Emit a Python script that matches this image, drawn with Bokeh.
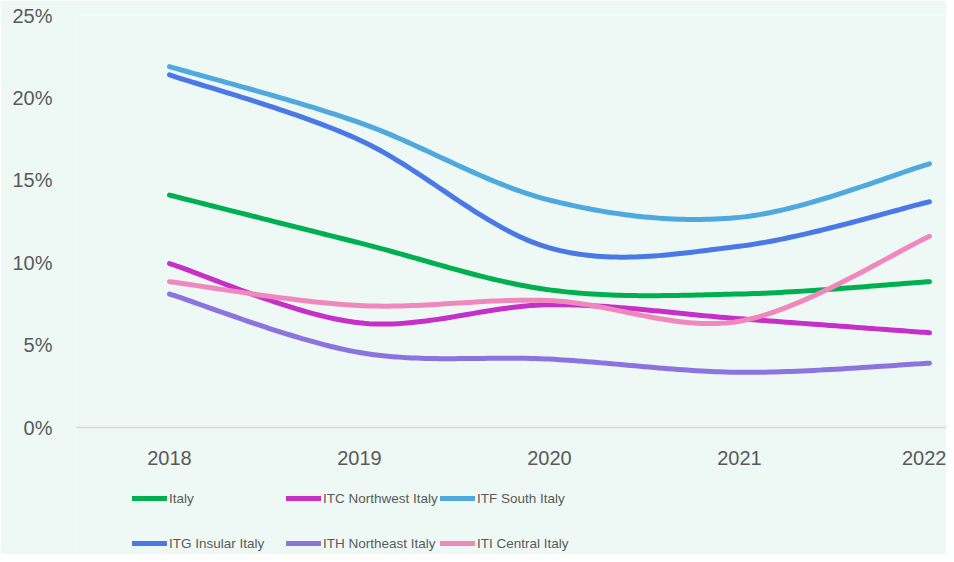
from bokeh.plotting import figure
from bokeh.models import Range1d, FixedTicker, PrintfTickFormatter, Legend, LegendItem
from bokeh.embed import file_html
from bokeh.resources import INLINE

years = ["2018", "2019", "2020", "2021", "2022"]
italy = [14.1, 11.2, 8.35, 8.1, 8.85]
itc = [9.95, 6.35, 7.45, 6.6, 5.75]
itf = [21.9, 18.5, 13.8, 12.75, 16.0]
itg = [21.4, 17.45, 10.9, 11.0, 13.7]
ith = [8.1, 4.55, 4.15, 3.35, 3.9]
iti = [8.85, 7.4, 7.7, 6.45, 11.6]

names = ["Italy", "ITC Northwest Italy", "ITF South Italy",
         "ITG Insular Italy", "ITH Northeast Italy", "ITI Central Italy"]
series = [italy, itc, itf, itg, ith, iti]
colors = ["#00B050", "#C62FC8", "#4FA8DE", "#4A78E6", "#8B73E0", "#F088BE"]

y_ticks = [0, 5, 10, 15, 20, 25]


def smooth(xs, ys, n=40):
    # Excel-style smoothed line: cubic Bezier segments through the points
    px, py = [], []
    m = len(xs)
    for i in range(m - 1):
        x0, y0 = xs[max(i - 1, 0)], ys[max(i - 1, 0)]
        x1, y1 = xs[i], ys[i]
        x2, y2 = xs[i + 1], ys[i + 1]
        x3, y3 = xs[min(i + 2, m - 1)], ys[min(i + 2, m - 1)]
        c1x, c1y = x1 + (x2 - x0) / 6.0, y1 + (y2 - y0) / 6.0
        c2x, c2y = x2 - (x3 - x1) / 6.0, y2 - (y3 - y1) / 6.0
        for k in range(n + (1 if i == m - 2 else 0)):
            t = k / n
            a = (1 - t) ** 3
            b = 3 * (1 - t) ** 2 * t
            c = 3 * (1 - t) * t ** 2
            d = t ** 3
            px.append(a * x1 + b * c1x + c * c2x + d * x2)
            py.append(a * y1 + b * c1y + c * c2y + d * y2)
    return px, py


W, H = 946, 554
p = figure(width=W, height=H, output_backend="svg", toolbar_location=None,
           x_range=Range1d(-0.4947, 4.0895), y_range=Range1d(-7.706, 25),
           min_border_left=75, min_border_right=0, min_border_top=15,
           min_border_bottom=0)
p.background_fill_color = "#EEF9F5"
p.border_fill_color = "#EEF9F5"
p.outline_line_color = None
p.xgrid.visible = False
p.ygrid.visible = False

xs = list(range(len(years)))
renderers = []
for name, ys, col in zip(names, series, colors):
    sx, sy = smooth(xs, ys)
    r = p.line(sx, sy, line_color=col, line_width=5, line_cap="round",
               line_join="round")
    renderers.append(r)

tick_font = "Liberation Sans"
# x axis, drawn at the 0% level
p.xaxis.fixed_location = 0
p.xaxis.ticker = FixedTicker(ticks=xs)
p.xaxis.major_label_overrides = {i: y for i, y in enumerate(years)}
p.xaxis.axis_line_color = "#D9D9D9"
p.xaxis.axis_line_width = 1.5
p.xaxis.major_tick_line_color = None
p.xaxis.minor_tick_line_color = None
p.xaxis.major_tick_out = 0
p.xaxis.major_label_standoff = 23
p.xaxis.major_label_text_font = tick_font
p.xaxis.major_label_text_font_size = "20px"
p.xaxis.major_label_text_color = "#595959"

# y axis
p.yaxis.ticker = FixedTicker(ticks=y_ticks)
p.yaxis.formatter = PrintfTickFormatter(format="%d%%")
p.yaxis.axis_line_color = None
p.yaxis.major_tick_line_color = None
p.yaxis.minor_tick_line_color = None
p.yaxis.major_tick_out = 0
p.yaxis.major_label_standoff = 23
p.yaxis.major_label_text_font = tick_font
p.yaxis.major_label_text_font_size = "20px"
p.yaxis.major_label_text_color = "#595959"

# legend: three columns of two rows, below the 0% line
cols = [(0, 3, 57), (1, 4, 211), (2, 5, 365)]
for a, b, xoff in cols:
    leg = Legend(items=[LegendItem(label=names[a], renderers=[renderers[a]]),
                        LegendItem(label=names[b], renderers=[renderers[b]])],
                 location=(xoff, 1), orientation="vertical")
    leg.glyph_width = 35
    leg.glyph_height = 20
    leg.label_height = 20
    leg.spacing = 25
    leg.padding = 0
    leg.margin = 0
    leg.label_standoff = 2
    leg.border_line_color = None
    leg.background_fill_alpha = 0
    leg.label_text_font = "Liberation Sans"
    leg.label_text_font_size = "13.5px"
    leg.label_text_color = "#595959"
    p.add_layout(leg, "center")

open("out.html", "w").write(file_html(p, INLINE))
